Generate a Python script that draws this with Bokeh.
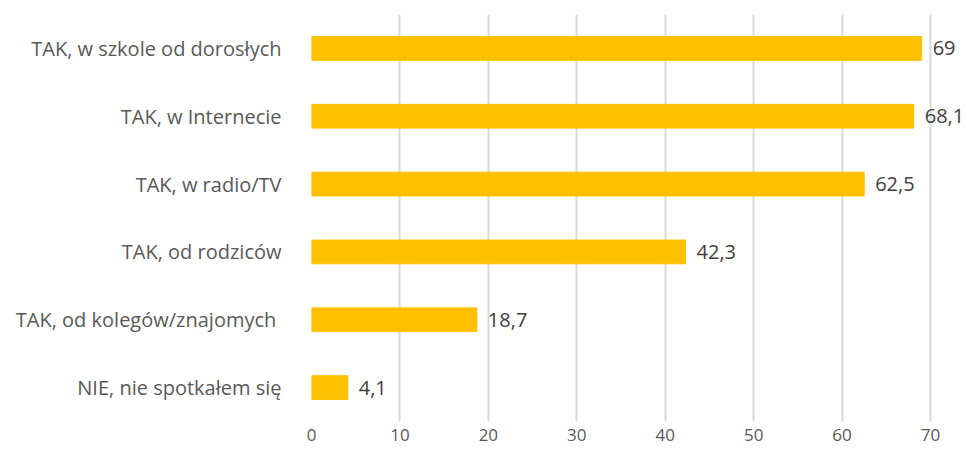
from bokeh.plotting import figure
from bokeh.models import ColumnDataSource, LabelSet, FactorRange, Range1d, FixedTicker
from bokeh.core.properties import value
from bokeh.embed import file_html
from bokeh.resources import INLINE

categories = ["TAK, w szkole od dorosłych", "TAK, w Internecie", "TAK, w radio/TV",
              "TAK, od rodziców", "TAK, od kolegów/znajomych ", "NIE, nie spotkałem się"]
values = [69, 68.1, 62.5, 42.3, 18.7, 4.1]
value_labels = ["69", "68,1", "62,5", "42,3", "18,7", "4,1"]
x_ticks = [0, 10, 20, 30, 40, 50, 60, 70]

FONT = "Open Sans"

source = ColumnDataSource(dict(cat=categories, val=values, lab=value_labels))

p = figure(width=963, height=448, output_backend="svg", toolbar_location=None,
           y_range=FactorRange(factors=categories[::-1], range_padding=0),
           x_range=Range1d(0, 73.73))
p.min_border_left = 311
p.min_border_right = 0
p.min_border_top = 14
p.min_border_bottom = 27
p.outline_line_color = None

p.hbar(y="cat", right="val", left=0, height=0.35, color="#FFC000", source=source)

labels = LabelSet(x="val", y="cat", text="lab", source=source, x_offset=11,
                  text_baseline="middle", text_font=value(FONT), text_font_size="20px",
                  text_color="#404040")
p.add_layout(labels)

p.xaxis.ticker = FixedTicker(ticks=x_ticks)
p.xaxis.axis_line_color = None
p.xaxis.major_tick_line_color = None
p.xaxis.minor_tick_line_color = None
p.xaxis.major_label_standoff = 1
p.xaxis.major_label_text_font = FONT
p.xaxis.major_label_text_font_size = "17px"
p.xaxis.major_label_text_color = "#595959"

p.yaxis.axis_line_color = None
p.yaxis.major_tick_line_color = None
p.yaxis.minor_tick_line_color = None
p.yaxis.major_label_standoff = 24
p.yaxis.major_label_text_font = FONT
p.yaxis.major_label_text_font_size = "20px"
p.yaxis.major_label_text_color = "#595959"

p.xgrid.grid_line_color = "#D9D9D9"
p.xgrid.grid_line_width = 2
p.ygrid.grid_line_color = None

open("out.html", "w").write(file_html(p, INLINE))
